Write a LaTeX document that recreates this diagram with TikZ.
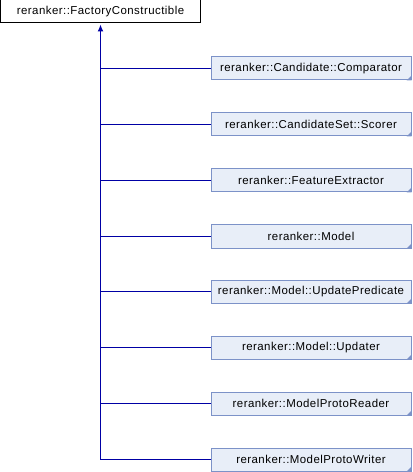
\documentclass[tikz,border=0pt]{standalone}
\usepackage{fontspec}
\setmainfont{Liberation Sans}[LetterSpace=4]
\usetikzlibrary{arrows.meta}
\definecolor{boxedge}{RGB}{124,146,200}
\definecolor{boxfill}{RGB}{232,238,248}
\definecolor{linkblue}{RGB}{0,0,165}

\begin{document}
\begin{tikzpicture}[x=1bp, y=-1bp]
\path [use as bounding box] (0,0) rectangle (412,472);
\tikzstyle{base} = [draw=black, fill=white, line width=1bp, minimum width=200bp, minimum height=23bp, inner sep=0pt, font=\fontsize{11.5}{13}\selectfont]
\tikzstyle{derived} = [base, draw=boxedge, fill=boxfill]
\tikzstyle{link} = [draw=linkblue, line width=1.2bp]
\tikzstyle{corner} = [fill=boxedge]
\node[base] (fc) at (100.5,11.5) {reranker::FactoryConstructible};
\node[derived] (cmp) at (311,68.5) {reranker::Candidate::Comparator};
\node[derived] (scr) at (311,124.5) {reranker::CandidateSet::Scorer};
\node[derived] (fex) at (311,180.5) {reranker::FeatureExtractor};
\node[derived] (mdl) at (311,236.5) {reranker::Model};
\node[derived] (upp) at (311,291.5) {reranker::Model::UpdatePredicate};
\node[derived] (upd) at (311,347.5) {reranker::Model::Updater};
\node[derived] (rdr) at (311,403.5) {reranker::ModelProtoReader};
\node[derived] (wrt) at (311,459.5) {reranker::ModelProtoWriter};
\coordinate (foot) at (fc.south |- wrt.west);
	\draw[link, {Latex[length=7bp,width=6bp]}-, shorten <=1bp] (fc.south) -- (foot);
	\foreach \k in {cmp,scr,fex,mdl,upp,upd,rdr,wrt} {
	\draw[link] (fc.south |- \k.west) -- (\k.west);
	\fill[corner] (\k.south east) -- ++(-5,0) -- ++(5,-5) -- cycle;
	}
\end{tikzpicture}
\end{document}
